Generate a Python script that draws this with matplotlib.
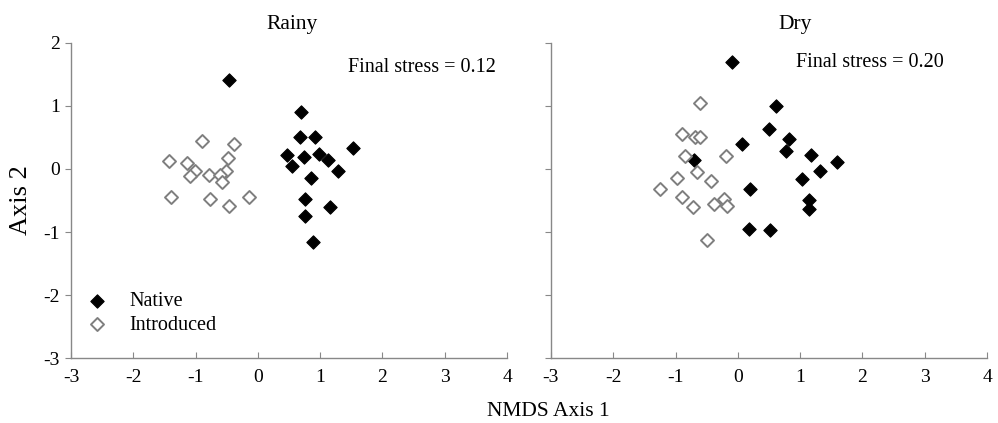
import matplotlib
matplotlib.use("Agg")
import matplotlib.pyplot as plt

plt.rcParams['font.family'] = ['Liberation Serif', 'DejaVu Serif']

# Rainy season
rainy_native_x = [-0.46, 0.70, 0.67, 0.91, 1.53, 0.46, 0.54, 0.74, 0.98, 1.12, 1.29, 0.86, 0.76, 0.75, 1.15, 0.89]
rainy_native_y = [1.41, 0.90, 0.50, 0.50, 0.33, 0.22, 0.05, 0.19, 0.24, 0.14, -0.03, -0.15, -0.48, -0.75, -0.61, -1.15]
rainy_intro_x = [-0.89, -0.39, -1.42, -1.14, -1.01, -1.09, -0.79, -0.48, -0.51, -0.61, -0.57, -1.39, -0.77, -0.47, -0.15]
rainy_intro_y = [0.45, 0.39, 0.13, 0.09, -0.04, -0.11, -0.10, 0.17, -0.03, -0.10, -0.20, -0.44, -0.48, -0.58, -0.44]

# Dry season
dry_native_x = [-0.09, 0.62, 0.50, 0.82, 0.78, 0.06, -0.71, 1.18, 1.60, 1.32, 1.03, 0.20, 1.14, 1.14, 0.18, 0.51]
dry_native_y = [1.70, 0.99, 0.64, 0.48, 0.29, 0.39, 0.14, 0.22, 0.11, -0.03, -0.16, -0.31, -0.49, -0.64, -0.95, -0.97]
dry_intro_x = [-0.60, -0.90, -0.69, -0.61, -0.84, -0.19, -0.65, -0.97, -0.43, -1.25, -0.89, -0.72, -0.39, -0.22, -0.17, -0.49]
dry_intro_y = [1.04, 0.55, 0.51, 0.51, 0.21, 0.21, -0.05, -0.15, -0.19, -0.31, -0.45, -0.61, -0.55, -0.48, -0.58, -1.13]

titles = ["Rainy", "Dry"]
stress_labels = ["Final stress = 0.12", "Final stress = 0.20"]
series = [
    (rainy_native_x, rainy_native_y, rainy_intro_x, rainy_intro_y),
    (dry_native_x, dry_native_y, dry_intro_x, dry_intro_y),
]
xticks = [-3, -2, -1, 0, 1, 2, 3, 4]
yticks = [-3, -2, -1, 0, 1, 2]

fig = plt.figure(figsize=(9.98, 4.23), dpi=100)
ax_pos = [[0.0711, 0.153, 0.437, 0.746], [0.552, 0.153, 0.437, 0.746]]
spine_col = '#888888'
stress_pos = [(0.975, 0.923), (0.90, 0.936)]
title_x = [0.507, 0.56]

for i in range(2):
    ax = fig.add_axes(ax_pos[i])
    nx, ny, ix, iy = series[i]
    ax.scatter(nx, ny, marker='D', s=46, facecolor='black', edgecolor='black', linewidths=0.8, zorder=3, label='Native')
    ax.scatter(ix, iy, marker='D', s=44, facecolor='white', edgecolor='#7f7f7f', linewidths=1.4, zorder=3, label='Introduced')
    ax.set_xlim(-3, 4)
    ax.set_ylim(-3, 2)
    ax.set_xticks(xticks)
    ax.set_yticks(yticks)
    ax.set_xticklabels([str(t) for t in xticks], fontsize=14)
    if i == 0:
        ax.set_yticklabels([str(t) for t in yticks], fontsize=14)
    else:
        ax.set_yticklabels([])
    for s in ['top', 'right']:
        ax.spines[s].set_visible(False)
    for s in ['left', 'bottom']:
        ax.spines[s].set_color(spine_col)
        ax.spines[s].set_linewidth(1.0)
    ax.tick_params(axis='x', direction='in', length=4, color=spine_col, pad=8)
    ax.tick_params(axis='y', direction='out', length=4, color=spine_col, pad=4)
    ax.set_title(titles[i], fontsize=15.5, pad=10, x=title_x[i])
    ax.text(stress_pos[i][0], stress_pos[i][1], stress_labels[i], transform=ax.transAxes,
            ha='right', va='center', fontsize=14.5)
    if i == 0:
        ax.set_ylabel("Axis 2", fontsize=19, labelpad=8)
        ax.legend(loc='lower left', bbox_to_anchor=(0.004, 0.037), frameon=False, fontsize=14.5,
                  handletextpad=1.0, labelspacing=0.22, borderaxespad=0.2, handlelength=1.2)

fig.text(0.549, 0.027, "NMDS Axis 1", ha='center', va='center', fontsize=15.5)

fig.savefig("out.png", dpi=100)
